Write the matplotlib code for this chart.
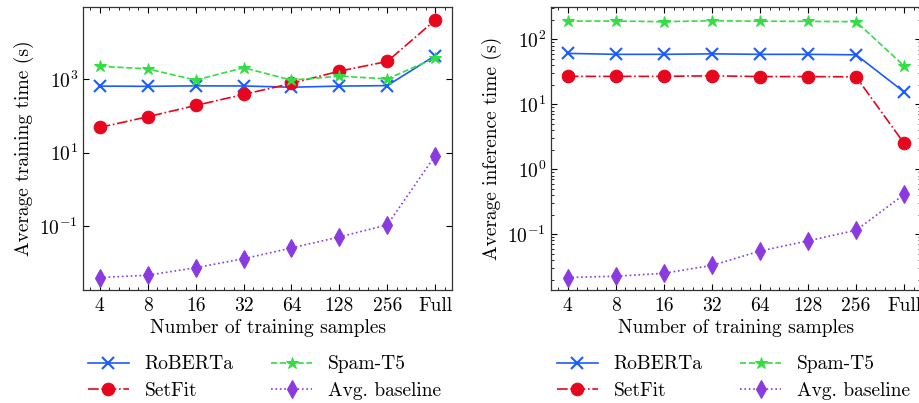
import matplotlib
matplotlib.use("Agg")
import matplotlib.pyplot as plt
from matplotlib.ticker import NullLocator, AutoMinorLocator, LogLocator
import numpy as np

plt.rcParams.update({
    "font.family": "serif",
    "font.serif": ["cmr10"],
    "mathtext.fontset": "cm",
    "axes.formatter.use_mathtext": True,
    "font.size": 14,
    "axes.unicode_minus": True,
})

categories = ["4", "8", "16", "32", "64", "128", "256", "Full"]

train_roberta = [660, 650, 670, 665, 615, 660, 680, 4500]
train_setfit = [49, 96, 195, 390, 780, 1690, 3110, 42000]
train_spamt5 = [2300, 1950, 960, 2100, 960, 1230, 1040, 3850]
train_baseline = [0.0039, 0.0045, 0.0072, 0.0127, 0.025, 0.050, 0.107, 8.3]

infer_roberta = [61, 59, 59, 60, 59, 59, 58, 15.5]
infer_setfit = [27, 27, 27, 27.5, 26.8, 26.8, 26.5, 2.5]
infer_spamt5 = [192, 192, 188, 194, 191, 190, 188, 39]
infer_baseline = [0.0215, 0.0225, 0.025, 0.033, 0.055, 0.079, 0.115, 0.41]

series_names = ["RoBERTa", "SetFit", "Spam-T5", "Avg. baseline"]
colors = ["#1a5cff", "#e6061e", "#33dd44", "#8a3be0"]
styles = ["-", "-.", "--", ":"]
markers = ["x", "o", "*", "d"]
msizes = [9, 9, 9, 9]

fig = plt.figure(figsize=(9.2, 4.03), dpi=100)
ax1 = fig.add_axes([83/920, 1-290/403, (452-83)/920, (290-7)/403])
ax2 = fig.add_axes([551/920, 1-290/403, (921-551)/920, (290-7)/403])

x = np.arange(len(categories))

def draw(ax, data, ylabel):
    for vals, name, c, ls, m, ms in zip(data, series_names, colors, styles, markers, msizes):
        ax.plot(x, vals, color=c, linestyle=ls, marker=m, markersize=ms,
                linewidth=1.2, markeredgewidth=1.5 if m == "x" else 0.8,
                label=name)
    ax.set_yscale("log")
    ax.set_xticks(x)
    ax.set_xticklabels(categories)
    ax.xaxis.set_minor_locator(AutoMinorLocator(5))
    ax.tick_params(which="both", direction="in", top=True, right=True)
    ax.tick_params(which="major", length=4, width=0.8)
    ax.tick_params(which="minor", length=2, width=0.6)
    ax.tick_params(axis="x", pad=5)
    for s in ax.spines.values():
        s.set_linewidth(0.9)
        s.set_color("#333333")
    ax.set_xlabel("Number of training samples", labelpad=3)
    ax.set_ylabel(ylabel)

draw(ax1, [train_roberta, train_setfit, train_spamt5, train_baseline], "Average training time (s)")
draw(ax2, [infer_roberta, infer_setfit, infer_spamt5, infer_baseline], "Average inference time (s)")

ax1.set_yticks([1e-1, 1e1, 1e3, 1e5])
ax1.yaxis.set_minor_locator(NullLocator())
ax1.set_ylim(10**-2.75, 10**4.98)
ax2.set_ylim(10**-1.86, 10**2.5)
ax2.yaxis.set_major_locator(LogLocator(base=10, numticks=10))
ax2.yaxis.set_minor_locator(LogLocator(base=10, subs=np.arange(2, 10), numticks=10))

for ax, xa in [(ax1, 88/920), (ax2, 557/920)]:
    ax.legend(ncol=2, frameon=False, loc="upper left",
              bbox_to_anchor=(xa, 0.118), bbox_transform=fig.transFigure,
              borderpad=0, borderaxespad=0, handlelength=2.1,
              handletextpad=0.8, columnspacing=1.95, labelspacing=0.45)

fig.savefig("out.png", dpi=100)
